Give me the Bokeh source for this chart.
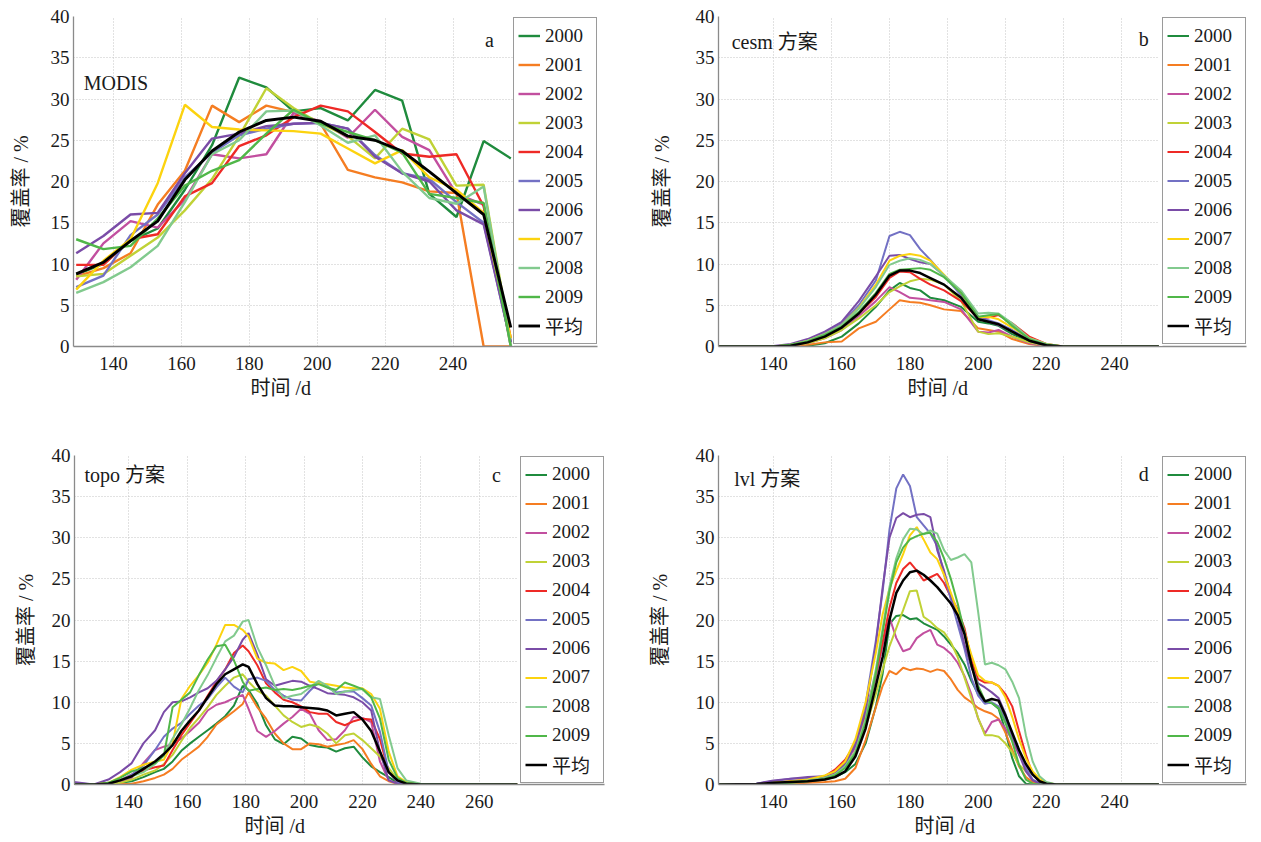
from bokeh.plotting import figure
from bokeh.models import Legend, LegendItem, FixedTicker, Label, Range1d, BoxAnnotation, Title
from bokeh.layouts import column, row
from bokeh.embed import file_html
from bokeh.resources import INLINE

FONT = "Liberation Serif, Noto Sans CJK SC"
LABELS = ["2000", "2001", "2002", "2003", "2004", "2005", "2006", "2007", "2008", "2009", "平均"]
COLORS = ["#1f8b3d", "#f57d22", "#c24f9f", "#c0d236", "#ee2a26", "#7371c4",
          "#7a4ca7", "#fcd30f", "#82ca8e", "#50b749", "#000000"]
Y_TICKS = [0, 5, 10, 15, 20, 25, 30, 35, 40]
X_TICKS_240 = [140, 160, 180, 200, 220, 240]
X_TICKS_260 = [140, 160, 180, 200, 220, 240, 260]
X_TITLE = "时间 /d"
Y_TITLE = "覆盖率 / %"

# ---------------- panel a : MODIS (8-day) ----------------
DAYS_A = [129, 137, 145, 153, 161, 169, 177, 185, 193, 201, 209, 217, 225, 233, 241, 249, 257]
A_2000 = [8.7, 10.0, 12.8, 14.3, 19.0, 24.4, 32.6, 31.4, 28.5, 28.9, 27.4, 31.1, 29.8, 18.5, 15.7, 24.9, 22.8]
A_2001 = [8.5, 9.5, 11.3, 17.2, 21.3, 29.2, 27.2, 29.2, 28.4, 27.0, 21.4, 20.5, 19.9, 18.8, 18.6, 0.0, 0.0]
A_2002 = [8.1, 12.5, 15.2, 14.4, 17.8, 23.3, 22.8, 23.3, 28.3, 27.3, 25.3, 28.7, 25.4, 23.8, 18.5, 17.2, 0.0]
A_2003 = [8.5, 8.8, 11.0, 13.2, 16.5, 20.3, 25.5, 31.3, 28.9, 27.0, 25.5, 22.8, 26.4, 25.1, 19.5, 19.6, 0.5]
A_2004 = [9.9, 9.9, 13.0, 13.6, 18.2, 19.8, 24.3, 25.6, 27.8, 29.2, 28.5, 26.0, 23.4, 23.0, 23.3, 17.0, 1.0]
A_2005 = [7.2, 8.6, 13.5, 16.0, 20.5, 23.5, 25.6, 26.4, 27.0, 27.1, 26.4, 23.2, 21.0, 20.3, 17.5, 15.0, 0.5]
A_2006 = [11.3, 13.4, 16.0, 16.2, 21.0, 25.2, 25.8, 26.7, 27.0, 27.1, 26.4, 23.0, 21.0, 20.0, 16.5, 14.8, 0.5]
A_2007 = [6.9, 10.4, 13.0, 19.8, 29.3, 26.6, 26.3, 26.2, 26.1, 25.8, 24.0, 22.2, 23.8, 20.5, 19.0, 16.2, 1.0]
A_2008 = [6.5, 7.8, 9.6, 12.2, 17.5, 23.3, 25.0, 28.5, 28.6, 26.8, 24.7, 25.6, 21.2, 18.0, 17.3, 19.4, 0.0]
A_2009 = [13.0, 11.8, 12.2, 15.5, 19.5, 21.3, 22.6, 25.8, 28.7, 27.0, 26.0, 25.0, 23.5, 18.5, 18.0, 17.4, 0.0]
A_MEAN = [8.8, 10.2, 12.8, 15.2, 20.2, 23.7, 26.0, 27.4, 27.8, 27.3, 25.5, 25.0, 23.7, 21.2, 18.6, 16.0, 2.3]

# ---------------- panel b : cesm ----------------
DAYS_B = [124, 140, 145, 150, 155, 160, 165, 170, 174, 177, 180, 183, 186, 190, 195, 200, 203, 206, 210, 215, 220, 225, 253]
B_2000 = [0, 0, 0, 0.1, 0.4, 1.2, 2.8, 4.8, 6.8, 7.7, 7.1, 6.8, 5.9, 5.6, 4.8, 3.0, 2.8, 2.5, 1.5, 0.6, 0.1, 0, 0]
B_2001 = [0, 0, 0.05, 0.2, 0.5, 0.6, 2.2, 3.0, 4.5, 5.6, 5.4, 5.3, 5.0, 4.5, 4.3, 2.2, 2.0, 1.8, 0.9, 0.3, 0.05, 0, 0]
B_2002 = [0, 0, 0.1, 0.4, 1.0, 2.0, 3.7, 5.5, 7.2, 6.6, 5.9, 5.8, 5.6, 5.4, 4.5, 1.8, 1.7, 2.0, 1.2, 0.4, 0.05, 0, 0]
B_2003 = [0, 0, 0.1, 0.4, 1.0, 2.0, 3.4, 5.0, 6.6, 7.3, 7.9, 8.2, 8.1, 7.5, 5.5, 1.8, 1.5, 1.6, 1.2, 0.5, 0.1, 0, 0]
B_2004 = [0, 0, 0.1, 0.5, 1.3, 2.4, 4.0, 6.0, 8.3, 9.1, 9.0, 8.2, 7.5, 6.8, 5.5, 3.4, 3.5, 3.8, 2.8, 1.2, 0.3, 0, 0]
B_2005 = [0, 0, 0.2, 0.7, 1.6, 2.8, 5.0, 8.0, 13.4, 13.9, 13.5, 11.8, 10.5, 8.6, 6.2, 3.6, 3.2, 2.8, 2.0, 0.8, 0.2, 0, 0]
B_2006 = [0, 0.05, 0.3, 0.9, 1.8, 3.0, 5.5, 8.5, 11.0, 11.1, 10.6, 10.2, 10.0, 8.6, 6.5, 3.6, 3.0, 2.6, 1.8, 0.7, 0.1, 0, 0]
B_2007 = [0, 0, 0.2, 0.7, 1.5, 2.6, 4.7, 7.5, 10.4, 11.0, 11.2, 11.0, 10.4, 8.7, 6.5, 3.5, 3.6, 3.3, 2.3, 1.0, 0.3, 0, 0]
B_2008 = [0, 0, 0.2, 0.7, 1.5, 2.6, 4.6, 7.2, 9.9, 10.4, 10.7, 10.5, 10.0, 8.6, 6.8, 4.0, 4.1, 4.0, 2.8, 1.0, 0.3, 0, 0]
B_2009 = [0, 0, 0.2, 0.6, 1.4, 2.4, 4.2, 6.5, 8.8, 9.3, 9.4, 9.5, 9.3, 8.4, 6.5, 3.6, 3.8, 3.9, 2.5, 0.9, 0.2, 0, 0]
B_MEAN = [0, 0, 0.1, 0.5, 1.2, 2.3, 4.0, 6.3, 8.6, 9.2, 9.2, 8.9, 8.3, 7.5, 5.9, 3.3, 3.0, 2.7, 1.8, 0.7, 0.15, 0, 0]

# ---------------- panel c : topo ----------------
DAYS_C = [121, 128, 133, 137, 141, 145, 149, 152, 155, 158, 161, 164, 167, 170, 173, 176, 179, 181, 184, 187,
          190, 193, 196, 199, 202, 205, 208, 211, 214, 217, 220, 223, 226, 229, 232, 235, 240, 273]
C_2000 = [0, 0, 0.1, 0.2, 0.4, 0.9, 1.5, 1.9, 2.8, 4.1, 5.0, 5.8, 6.6, 7.4, 8.3, 9.6, 12.0, 11.5, 9.8, 7.2,
          5.5, 4.9, 5.8, 5.6, 4.8, 4.6, 4.5, 4.0, 4.4, 4.6, 3.3, 2.2, 1.5, 0.9, 0.2, 0, 0, 0]
C_2001 = [0, 0, 0, 0.05, 0.1, 0.4, 0.8, 1.2, 1.9, 3.0, 3.8, 4.6, 5.8, 7.3, 8.1, 8.9, 9.8, 11.2, 9.4, 8.0,
          6.2, 5.0, 4.3, 4.3, 5.0, 4.9, 4.6, 4.8, 5.0, 5.4, 4.3, 2.5, 1.0, 0.4, 0.1, 0, 0, 0]
C_2002 = [0, 0, 0.1, 0.3, 0.8, 2.6, 4.2, 4.6, 4.9, 5.6, 6.5, 7.5, 9.0, 9.7, 10.0, 10.5, 10.9, 9.2, 6.5, 5.8,
          6.5, 7.4, 8.2, 9.2, 8.6, 6.6, 5.4, 5.5, 6.6, 8.2, 8.1, 7.6, 2.8, 0.5, 0.1, 0, 0, 0]
C_2003 = [0, 0, 0, 0.2, 0.6, 1.2, 1.7, 2.5, 3.6, 5.3, 6.9, 8.1, 9.4, 10.9, 12.0, 13.0, 13.4, 12.5, 11.4, 10.8,
          9.6, 8.4, 7.6, 7.0, 7.3, 7.0, 6.2, 5.0, 6.0, 6.2, 5.4, 4.4, 3.4, 2.0, 0.6, 0.1, 0, 0]
C_2004 = [0, 0, 0.1, 0.5, 1.2, 1.7, 2.1, 2.3, 4.2, 6.0, 7.5, 9.0, 10.8, 12.5, 14.0, 16.0, 16.9, 16.2, 14.5, 12.3,
          11.2, 10.3, 10.0, 9.5, 8.8, 8.6, 8.6, 7.6, 7.2, 7.7, 8.0, 7.9, 5.5, 1.5, 0.3, 0, 0, 0]
C_2005 = [0.2, 0, 0.2, 0.5, 1.2, 2.3, 4.2, 5.8, 6.8, 7.5, 8.6, 9.6, 10.4, 11.8, 13.0, 11.9, 11.2, 12.8, 13.0, 12.6,
          11.5, 10.8, 10.3, 10.2, 11.4, 12.4, 11.8, 11.2, 11.3, 11.3, 10.5, 9.6, 6.4, 1.5, 0.3, 0.1, 0, 0]
C_2006 = [0.3, 0, 0.6, 1.5, 2.6, 5.0, 6.6, 8.8, 10.0, 10.1, 10.6, 11.2, 11.7, 12.6, 14.0, 15.5, 17.6, 18.4, 15.8, 12.8,
          12.0, 12.3, 12.6, 12.5, 12.0, 11.6, 11.1, 11.0, 10.9, 10.6, 10.0, 9.0, 4.0, 0.5, 0.1, 0, 0, 0]
C_2007 = [0, 0, 0.2, 0.9, 1.8, 2.4, 2.8, 3.0, 5.0, 10.4, 12.0, 13.3, 14.8, 17.0, 19.4, 19.4, 18.8, 18.0, 15.3, 14.8,
          14.7, 13.9, 14.3, 13.8, 12.5, 12.3, 12.2, 12.0, 11.8, 11.7, 11.7, 11.0, 9.2, 4.0, 1.0, 0.3, 0, 0]
C_2008 = [0, 0, 0.1, 0.5, 1.0, 1.5, 2.5, 3.6, 5.6, 7.3, 9.3, 11.5, 13.3, 15.4, 17.4, 18.1, 19.8, 20.0, 16.7, 14.5,
          12.0, 10.5, 10.8, 11.0, 11.8, 12.6, 12.0, 11.0, 11.3, 11.5, 11.6, 10.6, 10.4, 6.0, 2.0, 0.5, 0.1, 0]
C_2009 = [0, 0, 0.2, 0.8, 1.6, 2.0, 2.6, 3.5, 9.4, 10.3, 11.2, 13.3, 15.2, 16.8, 17.0, 15.1, 12.5, 11.4, 11.6, 11.8,
          11.5, 11.6, 11.5, 11.7, 12.0, 12.2, 11.8, 11.5, 12.4, 12.0, 11.6, 10.6, 8.0, 3.0, 0.8, 0.2, 0, 0]
C_MEAN = [0, 0, 0.1, 0.5, 1.0, 1.9, 2.8, 3.7, 4.8, 6.5, 7.8, 9.0, 10.6, 12.2, 13.4, 14.0, 14.6, 14.3, 12.2, 10.5,
          9.6, 9.5, 9.5, 9.4, 9.3, 9.2, 9.0, 8.4, 8.6, 8.8, 7.9, 6.5, 4.0, 1.5, 0.5, 0.1, 0, 0]

# ---------------- panel d : lvl ----------------
DAYS_D = [124, 135, 140, 145, 150, 155, 158, 161, 164, 167, 170, 172, 174, 176, 178, 180, 182, 184, 186, 188,
          190, 192, 194, 196, 198, 200, 202, 204, 206, 208, 210, 212, 214, 216, 218, 220, 223, 226, 253]
D_2000 = [0, 0, 0.1, 0.2, 0.3, 0.6, 0.9, 1.5, 2.5, 5.0, 9.5, 13.5, 19.5, 20.5, 20.6, 20.1, 20.2, 19.6, 19.2, 18.8,
          18.0, 17.0, 16.0, 14.6, 12.6, 11.0, 10.0, 9.9, 9.2, 6.5, 3.2, 1.0, 0.1, 0, 0, 0, 0, 0, 0]
D_2001 = [0, 0, 0, 0.1, 0.2, 0.3, 0.4, 0.7, 2.0, 5.4, 9.4, 12.0, 13.8, 13.4, 14.2, 13.9, 14.1, 14.0, 13.7, 14.0,
          13.8, 12.8, 11.5, 10.6, 10.0, 9.3, 8.9, 8.6, 8.0, 6.3, 4.2, 2.2, 0.9, 0.3, 0.1, 0, 0, 0, 0]
D_2002 = [0, 0, 0.1, 0.3, 0.5, 0.9, 1.5, 2.6, 4.5, 8.0, 13.0, 17.0, 20.3, 17.8, 16.2, 16.5, 17.8, 18.4, 18.8, 17.0,
          16.6, 15.9, 14.8, 13.2, 11.0, 8.0, 6.2, 7.6, 7.9, 6.8, 5.4, 3.6, 2.3, 1.4, 0.4, 0.1, 0, 0, 0]
D_2003 = [0, 0, 0.1, 0.2, 0.4, 0.8, 1.3, 2.3, 4.0, 7.0, 11.0, 14.0, 16.8, 19.0, 21.2, 23.5, 23.6, 20.4, 19.8, 19.0,
          18.5, 17.3, 15.5, 13.0, 10.5, 8.1, 6.0, 6.0, 5.8, 5.0, 3.9, 2.4, 1.6, 1.3, 0.6, 0.2, 0, 0, 0]
D_2004 = [0, 0, 0.2, 0.4, 0.6, 1.0, 1.8, 3.0, 5.0, 8.5, 13.5, 17.3, 21.5, 24.5, 26.2, 27.0, 26.0, 24.8, 25.2, 25.6,
          24.5, 22.8, 21.3, 19.0, 15.2, 12.8, 12.4, 12.4, 12.0, 11.0, 9.5, 6.5, 3.6, 1.2, 0.4, 0.1, 0, 0, 0]
D_2005 = [0, 0.1, 0.4, 0.7, 0.8, 0.7, 1.2, 2.4, 5.0, 9.8, 17.5, 23.5, 31.0, 36.0, 37.7, 36.3, 32.5, 31.5, 30.5, 29.0,
          25.5, 22.5, 19.5, 16.5, 13.0, 10.8, 9.8, 10.0, 9.5, 7.9, 5.8, 4.0, 2.0, 0.6, 0.2, 0, 0, 0, 0]
D_2006 = [0, 0.1, 0.5, 0.7, 0.9, 1.0, 1.5, 2.6, 4.8, 9.0, 17.0, 24.0, 30.0, 32.4, 33.0, 32.5, 32.8, 32.9, 32.5, 28.5,
          26.0, 23.0, 20.5, 17.0, 14.3, 12.3, 11.8, 11.2, 10.5, 8.6, 6.0, 3.7, 1.6, 0.5, 0.1, 0, 0, 0, 0]
D_2007 = [0, 0, 0.2, 0.4, 0.6, 1.1, 1.6, 2.8, 5.5, 10.0, 16.0, 20.7, 23.8, 26.0, 28.0, 30.3, 31.3, 29.8, 28.2, 27.4,
          25.5, 23.3, 21.0, 18.5, 15.8, 13.3, 12.6, 12.4, 12.0, 10.6, 8.2, 5.5, 3.2, 1.6, 0.7, 0.2, 0, 0, 0]
D_2008 = [0, 0, 0.1, 0.3, 0.5, 0.8, 1.2, 2.2, 4.0, 8.0, 14.0, 19.0, 24.0, 27.5, 29.8, 31.1, 31.0, 30.4, 30.9, 30.5,
          28.5, 27.3, 27.6, 28.0, 27.0, 21.0, 14.6, 14.8, 14.5, 14.0, 12.5, 10.5, 6.0, 2.8, 1.0, 0.3, 0, 0, 0]
D_2009 = [0, 0, 0.1, 0.2, 0.4, 0.7, 1.1, 2.0, 3.8, 7.5, 13.5, 18.5, 23.5, 27.0, 28.8, 29.8, 30.2, 30.5, 30.6, 29.5,
          27.5, 25.0, 22.0, 18.5, 14.5, 12.0, 10.2, 9.9, 9.3, 7.5, 5.2, 2.4, 0.6, 0.1, 0, 0, 0, 0, 0]
D_MEAN = [0, 0.05, 0.2, 0.3, 0.4, 0.6, 0.9, 1.6, 3.4, 6.8, 12.0, 15.5, 20.0, 23.3, 24.8, 25.8, 26.0, 25.5, 24.8, 24.0,
          23.0, 22.0, 20.6, 18.3, 14.6, 11.5, 10.1, 10.4, 10.2, 8.4, 6.3, 4.2, 2.5, 1.2, 0.4, 0.1, 0, 0, 0]

GRID_A = [140, 160, 180, 200, 220, 240]
GRID_B = [140, 157, 174, 191, 208, 225, 242]
GRID_C = [140, 160, 180, 200, 220, 240, 260]

LEG_W = 82     # legend box width (px)


def panel(days, series, xr, xticks, grid_x, title, tag, title_xy, tag_xy, lw,
          left, top, bottom, fw0, fh, width, gap, ylab_standoff, leg_y, xt_off):
    """fw0 = width in px of the data area; the frame is widened to also hold the legend box."""
    k = fw0 / (xr[1] - xr[0])                  # px per day
    fw = fw0 + gap + LEG_W + 2                 # frame incl. legend column
    x_end = xr[0] + fw / k
    right = width - left - fw
    p = figure(width=width, height=top + fh + bottom,
               min_border_left=left, min_border_right=right,
               min_border_top=top, min_border_bottom=bottom,
               x_range=Range1d(xr[0], x_end), y_range=Range1d(0, 40),
               output_backend="svg", toolbar_location=None)
    p.outline_line_color = None
    p.background_fill_color = "white"
    p.border_fill_color = "white"

    items = []
    for lab, col, ys in zip(LABELS, COLORS, series):
        lw_i = lw + (0.5 if lab == "平均" else 0.0)
        r = p.line(days, ys, line_color=col, line_width=lw_i)
        items.append(LegendItem(label=lab, renderers=[r]))

    p.xgrid.ticker = FixedTicker(ticks=grid_x)
    p.ygrid.ticker = FixedTicker(ticks=Y_TICKS)
    for g in (p.xgrid, p.ygrid):
        g.grid_line_color = "#c4c4c4"
        g.grid_line_dash = "1 2"
        g.grid_line_width = 1

    p.xaxis.ticker = FixedTicker(ticks=xticks)
    p.yaxis.ticker = FixedTicker(ticks=Y_TICKS)
    for ax in (p.xaxis, p.yaxis):
        ax.major_tick_line_color = None
        ax.minor_tick_line_color = None
        ax.major_tick_out = 0
        ax.major_tick_in = 0
        ax.axis_line_color = "#8a8a8a"
        ax.axis_line_width = 1.3
        ax.major_label_text_font = FONT
        ax.major_label_text_font_size = "19px"
        ax.major_label_text_color = "#1a1a1a"
        ax.axis_label_text_font = FONT
        ax.axis_label_text_font_size = "20px"
        ax.axis_label_text_font_style = "normal"
        ax.axis_label_text_color = "#1a1a1a"
    p.yaxis.axis_label = Y_TITLE
    p.xaxis.major_label_standoff = 10
    p.yaxis.major_label_standoff = 4
    p.yaxis.axis_label_standoff = ylab_standoff

    p.add_layout(Title(text=X_TITLE, align="left", offset=xt_off, standoff=4,
                       text_font=FONT, text_font_size="20px", text_font_style="normal",
                       text_color="#1a1a1a"), "below")

    # white cover for the small gap between data area and legend box
    if gap > 0:
        p.add_layout(BoxAnnotation(left=xr[0] + (fw0 + 0.5) / k, right=xr[0] + (fw0 + gap) / k,
                                   bottom=0.05, top=39.95, fill_color="white", fill_alpha=1.0,
                                   line_alpha=0, level="annotation"))

    legend = Legend(items=items, location=(fw0 + gap, leg_y), margin=0,
                    padding=4, spacing=2, glyph_width=22, glyph_height=27,
                    label_height=27, label_width=LEG_W - 35, label_standoff=5,
                    label_text_font=FONT, label_text_font_size="19px",
                    label_text_color="#1a1a1a",
                    border_line_color="#9a9a9a", border_line_width=1.5, border_line_alpha=1.0,
                    background_fill_color="white", background_fill_alpha=1.0)
    p.add_layout(legend)

    p.add_layout(Label(x=title_xy[0], y=title_xy[1], text=title, text_font=FONT,
                       text_font_size="20px", text_baseline="middle", text_align="left",
                       text_color="#1a1a1a"))
    p.add_layout(Label(x=tag_xy[0], y=tag_xy[1], text=tag, text_font=FONT,
                       text_font_size="20px", text_baseline="middle", text_align="center",
                       text_color="#1a1a1a"))
    return p


pa = panel(DAYS_A, [A_2000, A_2001, A_2002, A_2003, A_2004, A_2005, A_2006, A_2007, A_2008, A_2009, A_MEAN],
           (128.2, 257.5), X_TICKS_240, GRID_A, "MODIS", "a", (131.2, 32.0), (250.7, 37.2), 2.4,
           left=73, top=16, bottom=74, fw0=439, fh=330, width=640, gap=1, ylab_standoff=16,
           leg_y=2, xt_off=177)
pb = panel(DAYS_B, [B_2000, B_2001, B_2002, B_2003, B_2004, B_2005, B_2006, B_2007, B_2008, B_2009, B_MEAN],
           (123.85, 252.9), X_TICKS_240, GRID_B, "cesm 方案", "b", (127.7, 36.9), (248.6, 37.3), 2.0,
           left=78, top=16, bottom=74, fw0=440, fh=330, width=618, gap=4, ylab_standoff=20,
           leg_y=2, xt_off=189)
pc = panel(DAYS_C, [C_2000, C_2001, C_2002, C_2003, C_2004, C_2005, C_2006, C_2007, C_2008, C_2009, C_MEAN],
           (121.4, 273.1), X_TICKS_260, GRID_C, "topo 方案", "c", (124.8, 37.6), (265.9, 37.6), 2.0,
           left=74, top=35, bottom=58, fw0=443, fh=329, width=640, gap=3, ylab_standoff=12,
           leg_y=1.5, xt_off=170)
pd_ = panel(DAYS_D, [D_2000, D_2001, D_2002, D_2003, D_2004, D_2005, D_2006, D_2007, D_2008, D_2009, D_MEAN],
            (123.85, 252.9), X_TICKS_240, GRID_B, "lvl 方案", "d", (128.45, 37.1), (248.6, 37.7), 2.0,
            left=78, top=35, bottom=58, fw0=440, fh=329, width=618, gap=4, ylab_standoff=22,
            leg_y=1.5, xt_off=196)

layout = column(row(pa, pb, spacing=0), row(pc, pd_, spacing=0), spacing=0)
open("out.html", "w").write(file_html(layout, INLINE))
